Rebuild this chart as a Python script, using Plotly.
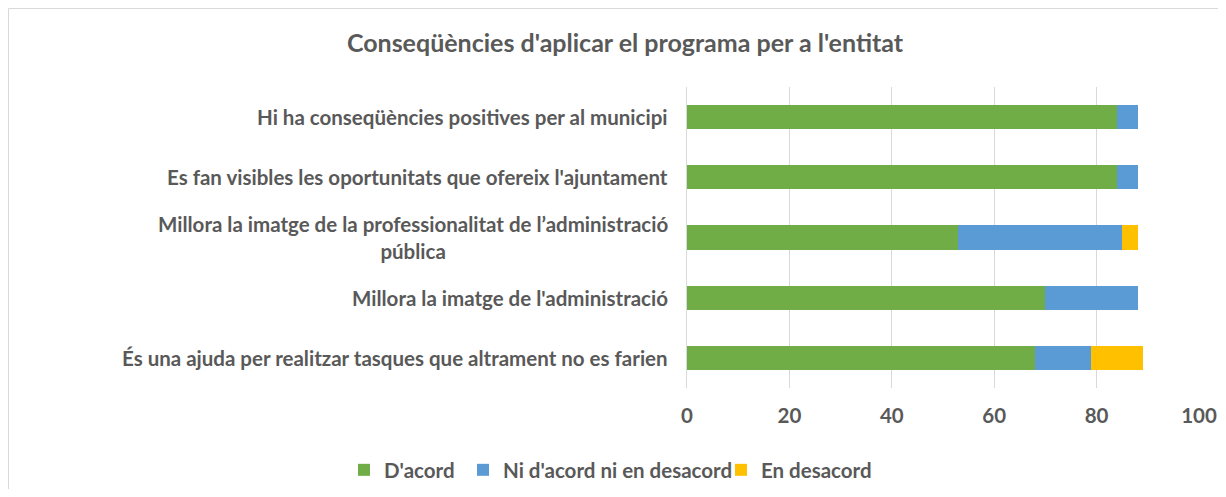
import plotly.graph_objects as go

categories = [
    "Hi ha conseqüències positives per al municipi",
    "Es fan visibles les oportunitats que ofereix l'ajuntament",
    "Millora la imatge de la professionalitat de l’administració<br>pública",
    "Millora la imatge de l'administració",
    "És una ajuda per realitzar tasques que altrament no es farien",
]
series_names = ["D'acord", "Ni d'acord ni en desacord", "En desacord"]
dacord = [84, 84, 53, 70, 68]
ni = [4, 4, 32, 18, 11]
desacord = [0, 0, 3, 0, 10]
colors = ["#70AD47", "#5B9BD5", "#FFC000"]
x_ticks = [0, 20, 40, 60, 80, 100]

FONT = "Lato"
GRAY = "#595959"

# page has an 8px body margin; figure coordinates are page - 8
W, H = 1210, 481
L, R, T, B = 679, 1191, 79, 380

legend_ids = ["legend", "legend2", "legend3"]
legend_left = [336, 455, 713]

fig = go.Figure()
for name, vals, col, lid in zip(series_names, [dacord, ni, desacord], colors, legend_ids):
    fig.add_trace(go.Bar(
        y=categories, x=vals, name=name, orientation="h", legend=lid,
        marker=dict(color=col, line=dict(width=0)),
    ))

annotations = []
for c in categories:
    annotations.append(dict(
        x=(662 - L) / (R - L), xref="paper", y=c, yref="y",
        text=c, showarrow=False, xanchor="right", align="center",
        font=dict(family=FONT, size=20.5, color=GRAY, weight="bold"),
    ))

legends = {}
for lid, lx in zip(legend_ids, legend_left):
    legends[lid] = dict(
        orientation="h", xref="container", x=lx / W, xanchor="left",
        yref="container", y=1 - 462 / H, yanchor="middle",
        font=dict(family=FONT, size=20.5, color=GRAY, weight="bold"),
        bgcolor="rgba(0,0,0,0)", itemwidth=30,
    )

fig.update_layout(
    width=W, height=H,
    barmode="stack", bargap=0.6,
    margin=dict(l=L, r=W - R, t=T, b=H - B, autoexpand=False),
    paper_bgcolor="white", plot_bgcolor="white",
    title=dict(
        text="Conseqüències d'aplicar el programa per a l'entitat",
        x=617 / W, xref="container", xanchor="center",
        y=1 - 35 / H, yref="container", yanchor="middle",
        font=dict(family=FONT, size=25, color=GRAY, weight="bold"),
    ),
    xaxis=dict(
        range=[0, 100], tickvals=x_ticks, showgrid=True,
        gridcolor="#D9D9D9", gridwidth=1, zeroline=False,
        showline=False, ticks="", ticklabelstandoff=13,
        tickfont=dict(family=FONT, size=20.5, color=GRAY, weight="bold"),
        fixedrange=True,
    ),
    yaxis=dict(
        autorange="reversed", showticklabels=False, showgrid=False,
        showline=True, linecolor="#D9D9D9", linewidth=1, ticks="",
        zeroline=False,
    ),
    annotations=annotations,
    shapes=[dict(
        type="rect", xref="paper", yref="paper",
        x0=(0.5 - L) / (R - L), x1=(1240 - L) / (R - L),
        y0=(B - 510) / (B - T), y1=(B - 0.5) / (B - T),
        line=dict(color="#D9D9D9", width=1), fillcolor="rgba(0,0,0,0)",
        layer="below",
    )],
    showlegend=True,
    **legends,
)

fig.write_html("out.html")
